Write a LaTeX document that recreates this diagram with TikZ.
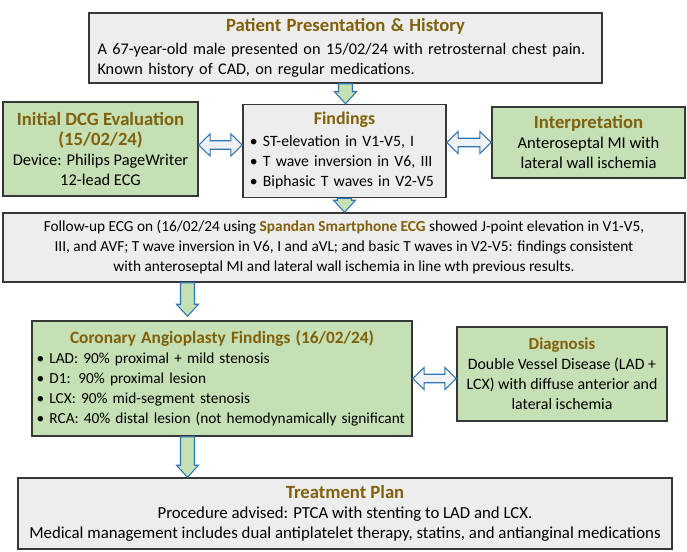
\documentclass[tikz,border=0pt]{standalone}
\usepackage{fontspec}
\setmainfont{Carlito}
\usepackage{xcolor}
\usepackage{tikz}
\usetikzlibrary{calc}

\definecolor{boxgray}{RGB}{237,237,237}
\definecolor{boxgreen}{RGB}{197,224,180}
\definecolor{ttlbrown}{RGB}{128,96,10}
\definecolor{arrowblue}{RGB}{46,117,182}
\definecolor{edgegray}{RGB}{55,55,55}
\definecolor{dblfill}{RGB}{240,242,245}

\newcommand{\ttl}[2][14]{{\fontsize{#1}{16}\selectfont\bfseries\color{ttlbrown}#2}}

\begin{document}
\begin{tikzpicture}[x=0.75pt, y=-0.75pt,
            txt/.style={font=\fontsize{#1}{15}\selectfont, inner sep=0pt, align=center},
            graybox/.style={txt=#1, draw=edgegray, fill=boxgray, line width=1.1pt},
            greenbox/.style={txt=#1, draw=edgegray, fill=boxgreen, line width=1.1pt},
            blkdown/.style={draw=arrowblue, fill=boxgreen, line width=0.8pt,
                to path={let \p1=(\tikztostart), \p2=(\tikztotarget) in
                    (\x1-5.25pt,\y1) -- (\x1-5.25pt,\y2+9pt) -- (\x1-8.2pt,\y2+9pt) -- (\x1,\y2)
                    -- (\x1+8.2pt,\y2+9pt) -- (\x1+5.25pt,\y2+9pt) -- (\x1+5.25pt,\y1) -- cycle}},
            blkboth/.style={draw=arrowblue, fill=dblfill, line width=0.8pt,
                to path={let \p1=(\tikztostart), \p2=(\tikztotarget) in
                    (\x1,\y1) -- (\x1+8.5pt,\y1+8.25pt) -- (\x1+8.5pt,\y1+3.2pt) -- (\x2-8.5pt,\y1+3.2pt)
                    -- (\x2-8.5pt,\y1+8.25pt) -- (\x2,\y1) -- (\x2-8.5pt,\y1-8.25pt) -- (\x2-8.5pt,\y1-3.2pt)
                    -- (\x1+8.5pt,\y1-3.2pt) -- (\x1+8.5pt,\y1-8.25pt) -- cycle}},
        ]
        \useasboundingbox (0,0) rectangle (687,552);

        \node[graybox=12.2, minimum width=384.75pt, minimum height=52.5pt, text width=372pt, align=left] (patient) at (345.5,48)
            {\centering\ttl{Patient Presentation \& History}\par\vspace{2pt}\raggedright
             A 67-year-old male presented on 15/02/24 with retrosternal chest pain.\\
             Known history of CAD, on regular medications.};

        \node[greenbox=12.3, minimum width=146.25pt, minimum height=70.5pt] (dcg) at (100.5,149)
            {\ttl{Initial DCG Evaluation}\\ \ttl{(15/02/24)}\\ Device: Philips PageWriter\\ 12-lead ECG};

        \node[graybox=11.8, minimum width=152.25pt, minimum height=69.75pt, text width=142pt, align=left] (findings) at (344.5,151)
            {\centering\ttl[13.4]{Findings}\par\vspace{1.5pt}\raggedright
             \textbullet\ ST-elevation in V1-V5, I\\
             \textbullet\ T wave inversion in V6, III\\
             \textbullet\ Biphasic T waves in V2-V5};

        \node[greenbox=12.4, minimum width=144.75pt, minimum height=53.25pt] (interp) at (588.5,142.5)
            {\ttl{Interpretation}\\ Anteroseptal MI with\\ lateral wall ischemia};

        \node[graybox=11.5, minimum width=511.5pt, minimum height=51.75pt] (followup) at (344,247.5)
            {Follow-up ECG on (16/02/24 using {\bfseries\color{ttlbrown}Spandan Smartphone ECG} showed J-point elevation in V1-V5,\\
             III, and AVF; T wave inversion in V6, I and aVL; and basic T waves in V2-V5: findings consistent\\
             with anteroseptal MI and lateral wall ischemia in line wth previous results.};

        \node[greenbox=11.5, minimum width=285pt, minimum height=86.25pt, text width=278pt, align=left] (coronary) at (222,378.5)
            {\centering\ttl[13]{Coronary Angioplasty Findings (16/02/24)}\par\raggedright
             \textbullet\ LAD: 90\% proximal + mild stenosis\\
             \textbullet\ D1: 90\% proximal lesion\\
             \textbullet\ LCX: 90\% mid-segment stenosis\\
             \textbullet\ RCA: 40\% distal lesion (not hemodynamically significant};

        \node[greenbox=11.9, minimum width=157.5pt, minimum height=70.5pt] (diagnosis) at (562,374)
            {\ttl[12.6]{Diagnosis}\\ Double Vessel Disease (LAD +\\ LCX) with diffuse anterior and\\ lateral ischemia};

        \node[graybox=12.6, minimum width=490.5pt, minimum height=53.25pt] (treatment) at (345,513.5)
            {\ttl{Treatment Plan}\\ Procedure advised: PTCA with stenting to LAD and LCX.\\
             Medical management includes dual antiplatelet therapy, statins, and antianginal medications};

        \coordinate (cordrop) at ([xshift=-25.9pt]coronary.north);

        \draw[blkdown] (patient.south) to (findings.north);
        \draw[blkdown] (findings.south) to (findings.south |- followup.north);
        \draw[blkdown] (followup.south -| cordrop) to ([yshift=3pt]cordrop);
        \draw[blkdown] (coronary.south -| cordrop) to (treatment.north -| cordrop);

        \draw[blkboth] ([yshift=3pt]dcg.east) to ([yshift=3pt]dcg.east -| findings.west);
        \draw[blkboth] (findings.east |- interp.west) to (interp.west);
        \draw[blkboth] (coronary.east) to (coronary.east -| diagnosis.west);
    \end{tikzpicture}
\end{document}
